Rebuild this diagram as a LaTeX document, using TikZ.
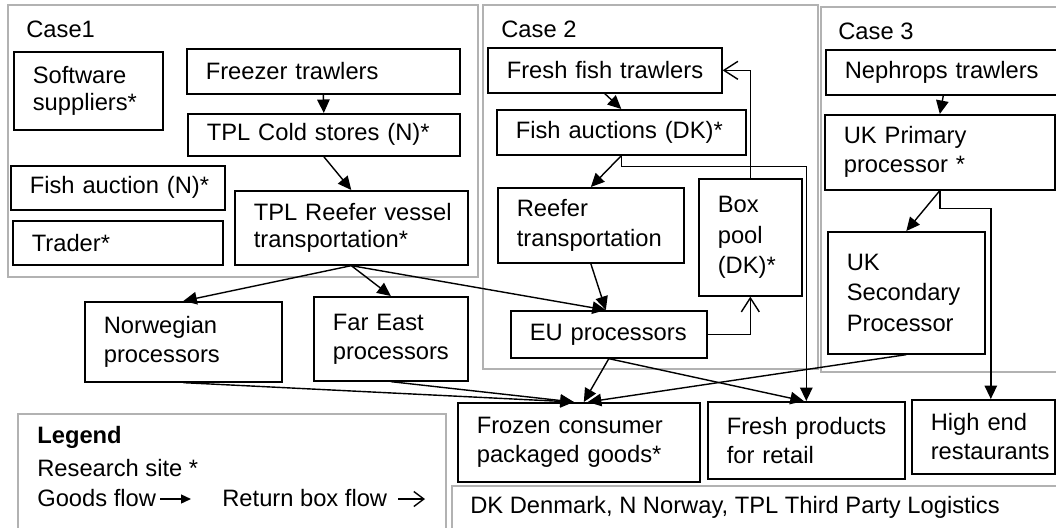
\documentclass[tikz,border=0pt]{standalone}
\usepackage{fontspec}
\setmainfont{Liberation Sans}
\usetikzlibrary{arrows.meta,calc}
\newcommand\fs{\fontsize{13.5pt}{16.5pt}\selectfont}
\begin{document}
\begin{tikzpicture}[x=0.02cm,y=-0.02cm,
  box/.style={draw, line width=0.95pt, anchor=north west, align=left,
    inner xsep=0.38cm, inner ysep=0pt, font=\fs},
  frame/.style={draw=black!30, line width=0.7pt},
  goods/.style={line width=0.8pt, -{Triangle[length=0.27cm,width=0.25cm]}},
  ret/.style={line width=0.8pt, -{Straight Barb[length=0.28cm,width=0.36cm]}},
  lbl/.style={anchor=base west, inner sep=0pt, font=\fs}]
\useasboundingbox (0,0) rectangle (1056,528);

% case frames
\draw[frame] (8,5) rectangle (478,277);
\draw[frame] (483,5) rectangle (818,369);
\draw[frame] (821,7) rectangle (1070,372);
\draw[frame] (18,414) rectangle (446,540);
\draw[frame] (452,486) rectangle (1070,540);

\node[lbl] (c1) at (26,37) {Case1};
\node[lbl] (c2) at (501,37) {Case 2};
\node[lbl] (c3) at (838,39) {Case 3};

% Case 1
\node[box, text width=2.22cm, minimum height=1.56cm,
  font=\fontsize{13.5pt}{15.5pt}\selectfont] (soft) at (13,51)
  {\mbox{Software}\\\mbox{suppliers*}};
\node[box, text width=4.70cm, minimum height=0.90cm] (freezer) at (186,48) {\mbox{Freezer trawlers}};
\node[box, text width=4.68cm, minimum height=0.84cm] (cold) at (187,113) {\mbox{TPL Cold stores (N)*}};
\node[box, text width=3.52cm, minimum height=0.88cm] (auction) at (10,165) {\mbox{Fish auction (N)*}};
\node[box, text width=3.44cm, minimum height=0.88cm] (trader) at (12,220) {\mbox{Trader*}};
\node[box, text width=3.90cm, minimum height=1.48cm,
  font=\fontsize{13.5pt}{15.5pt}\selectfont] (reefer1) at (234,190)
  {\mbox{TPL Reefer vessel}\\\mbox{transportation*}};

% Case 2
\node[box, text width=3.92cm, minimum height=0.90cm] (fresh) at (487,47) {\mbox{Fresh fish trawlers}};
\node[box, text width=4.22cm, minimum height=0.90cm] (fauction) at (496,109) {\mbox{Fish auctions (DK)*}};
\node[box, text width=2.96cm, minimum height=1.50cm,
  font=\fontsize{13.5pt}{17.5pt}\selectfont] (reefer2) at (497,187)
  {\mbox{Reefer}\\\mbox{transportation}};
\node[box, text width=1.30cm, minimum height=2.34cm,
  font=\fontsize{13.5pt}{17.5pt}\selectfont] (boxpool) at (698,178)
  {\mbox{Box}\\\mbox{pool}\\\mbox{(DK)*}};
\node[box, text width=3.16cm, minimum height=0.94cm] (eu) at (510,310) {\mbox{EU processors}};

% Case 3
\node[box, text width=3.94cm, minimum height=0.90cm] (neph) at (825,49) {\mbox{Nephrops trawlers}};
\node[box, text width=3.84cm, minimum height=1.50cm] (ukp) at (824,114)
  {\mbox{UK Primary}\\\mbox{processor *}};
\node[box, text width=2.38cm, minimum height=2.44cm,
  font=\fontsize{13.5pt}{17.5pt}\selectfont] (uks) at (827,231)
  {\mbox{UK}\\\mbox{Secondary}\\\mbox{Processor}};

% downstream
\node[box, text width=3.18cm, minimum height=1.60cm] (norw) at (84,301)
  {\mbox{Norwegian}\\\mbox{processors}};
\node[box, text width=2.32cm, minimum height=1.68cm] (fareast) at (313,296)
  {\mbox{Far East}\\\mbox{processors}};
\node[box, text width=4.08cm, minimum height=1.58cm] (frozen) at (457,402)
  {\mbox{Frozen consumer}\\\mbox{packaged goods*}};
\node[box, text width=3.18cm, minimum height=1.54cm] (freshret) at (707,401)
  {\mbox{Fresh products}\\\mbox{for retail}};
\node[box, text width=2.10cm, minimum height=1.48cm] (highend) at (911,399)
  {\mbox{High end}\\\mbox{restaurants}};

% goods flows
\draw[goods] (freezer.south) -- (cold.north);
\draw[goods] (cold.south) -- (reefer1.north);
\draw[goods] (reefer1.south) -- (norw.north);
\draw[goods] (reefer1.south) -- (fareast.north);
\draw[goods] (reefer1.south) -- ([xshift=-0.06cm]eu.north);
\draw[goods] (fresh.south) -- (fauction.north);
\draw[goods] (fauction.south) -- (reefer2.north);
\draw[goods] (fauction.south) -- ++(0,11) -| (freshret.north);
\draw[goods] (reefer2.south) -- ([xshift=-0.06cm]eu.north);
\draw[goods] (neph.south) -- (ukp.north);
\draw[goods] (ukp.south) -- (uks.north);
\draw[goods] (ukp.south) -- ++(0,18) -| ([xshift=0.15cm]highend.north);
\draw[goods] (norw.south) -- ([xshift=-0.1cm]frozen.north);
\draw[goods] (fareast.south) -- ([xshift=-0.1cm]frozen.north);
\draw[goods] (eu.south) -- ([xshift=0.1cm]frozen.north);
\draw[goods] (uks.south) -- ([xshift=0.18cm]frozen.north);
\draw[goods] (eu.south) -- ([xshift=-0.05cm]freshret.north);

% return box flows
\draw[ret] (boxpool.north) |- (fresh.east);
\draw[ret] (eu.east) -| (boxpool.south);

% legend
\node[lbl, font=\fs\bfseries] (lg) at (37,443) {Legend};
\node[lbl] (lrs) at (37,476) {Research site *};
\node[lbl] (lgf) at (37,506) {Goods flow};
\coordinate (ga) at (160,499);
\coordinate (gb) at (191,499);
\draw[line width=0.8pt, -{Triangle[length=0.2cm,width=0.18cm]}] (ga) -- (gb);
\node[lbl] (lrb) at (222,506) {Return box flow};
\coordinate (ra) at (398,499);
\coordinate (rb) at (425,499);
\draw[line width=0.8pt, -{Straight Barb[length=0.2cm,width=0.3cm]}] (ra) -- (rb);

\node[lbl] (abbr) at (470,513) {DK Denmark, N Norway, TPL Third Party Logistics};
\end{tikzpicture}
\end{document}
